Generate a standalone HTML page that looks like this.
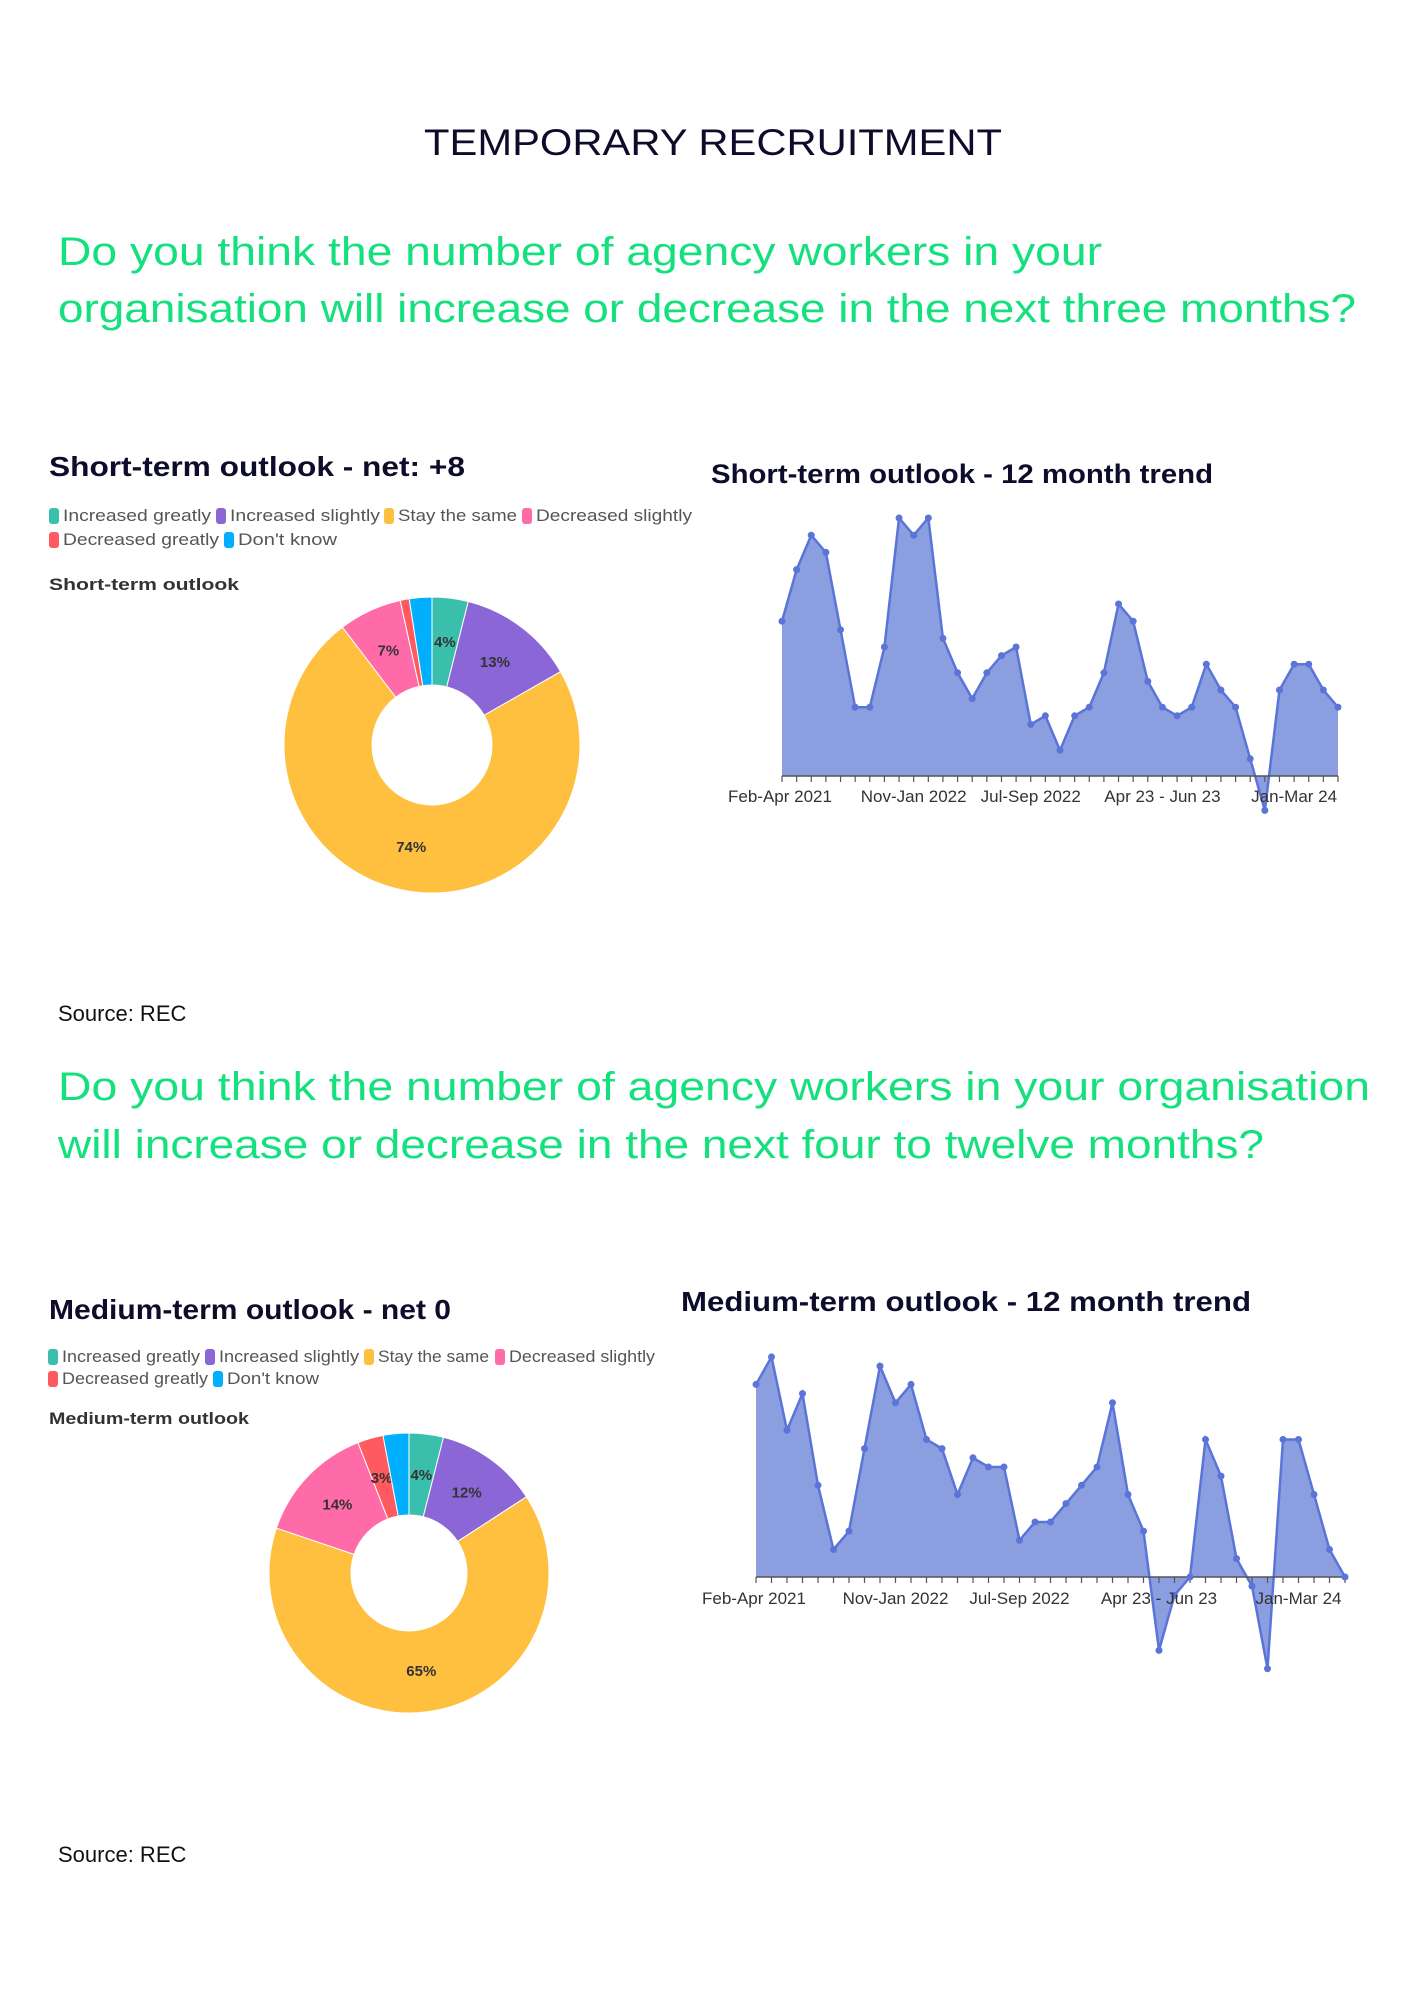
<!DOCTYPE html>
<html><head><meta charset="utf-8"><style>
html,body{margin:0;padding:0;background:#fff;}
svg{display:block;font-family:"Liberation Sans",sans-serif;}
</style></head><body>
<svg id="page" width="1414" height="2000" viewBox="0 0 1414 2000" xmlns="http://www.w3.org/2000/svg">
<rect width="1414" height="2000" fill="#fff"/>
<text x="713" y="155" text-anchor="middle" font-size="37" fill="#0d0d2b" textLength="578" lengthAdjust="spacingAndGlyphs">TEMPORARY RECRUITMENT</text>
<g fill="#14e07e" font-size="40">
<text x="58" y="265" textLength="1044" lengthAdjust="spacingAndGlyphs">Do you think the number of agency workers in your</text>
<text x="58" y="322" textLength="1298" lengthAdjust="spacingAndGlyphs">organisation will increase or decrease in the next three months?</text>
</g>
<g fill="#14e07e" font-size="40">
<text x="58" y="1100" textLength="1312" lengthAdjust="spacingAndGlyphs">Do you think the number of agency workers in your organisation</text>
<text x="58" y="1158" textLength="1206" lengthAdjust="spacingAndGlyphs">will increase or decrease in the next four to twelve months?</text>
</g>
<text x="58" y="1021" font-size="22" fill="#111">Source: REC</text>
<text x="58" y="1862" font-size="22" fill="#111">Source: REC</text>

<text x="49" y="476" font-size="28" font-weight="bold" fill="#0d0d2b" textLength="416" lengthAdjust="spacingAndGlyphs">Short-term outlook - net: +8</text>
<text x="49" y="590" font-size="17" font-weight="bold" fill="#333" textLength="190" lengthAdjust="spacingAndGlyphs">Short-term outlook</text>
<text x="49" y="1319" font-size="28" font-weight="bold" fill="#0d0d2b" textLength="402" lengthAdjust="spacingAndGlyphs">Medium-term outlook - net 0</text>
<text x="49" y="1424" font-size="17" font-weight="bold" fill="#333" textLength="200" lengthAdjust="spacingAndGlyphs">Medium-term outlook</text>
<text x="711" y="483" font-size="27" font-weight="bold" fill="#0d0d2b" textLength="502" lengthAdjust="spacingAndGlyphs">Short-term outlook - 12 month trend</text>
<text x="681" y="1311" font-size="28" font-weight="bold" fill="#0d0d2b" textLength="570" lengthAdjust="spacingAndGlyphs">Medium-term outlook - 12 month trend</text>
<g id="charts"></g>
</svg>
<script>
const NS="http://www.w3.org/2000/svg";
const legendLabels=["Increased greatly","Increased slightly","Stay the same","Decreased slightly","Decreased greatly","Don't know"];
const legendColors=["#3bbfad","#8b66d6","#ffbf3f","#ff6aa8","#ff5a5f","#00b0ff"];
const shortShares=[4,13,74,7,1,2.5];
const shortLabels=["4%","13%","74%","7%","",""];
const mediumShares=[4,12,65,14,3,3];
const mediumLabels=["4%","12%","65%","14%","3%",""];
const trendTicks=["Feb-Apr 2021","Nov-Jan 2022","Jul-Sep 2022","Apr 23 - Jun 23","Jan-Mar 24"];
const trendTickIdx=[0,9,17,26,35];
const shortTrend=[18,24,28,26,17,8,8,15,30,28,30,16,12,9,12,14,15,6,7,3,7,8,12,20,18,11,8,7,8,13,10,8,2,-4,10,13,13,10,8];
const mediumTrend=[21,24,16,20,10,3,5,14,23,19,21,15,14,9,13,12,12,4,6,6,8,10,12,19,9,5,-8,-2,0,15,11,2,-1,-10,15,15,9,3,0];

const root=document.getElementById('charts');
function mk(tag,attrs,parent){const e=document.createElementNS(NS,tag);for(const k in attrs)e.setAttribute(k,attrs[k]);(parent||root).appendChild(e);return e;}

function legend(x1s,ends,y1,y2,name){
  const g=mk('g',{});
  
  
  legendLabels.forEach((l,i)=>{
    const row=i<4?0:1, y=row?y2:y1, x=x1s[i];
    const it=mk('g',{},g);
    
    
    mk('rect',{x:x,y:y-13,width:10,height:16,rx:3,fill:legendColors[i]},it);
    const t=mk('text',{x:x+14,y:y,'font-size':17,fill:'#555',textLength:ends[i]-x-14,lengthAdjust:'spacingAndGlyphs'},it);
    t.textContent=l;
  });
}
legend([49,216,384,522,49,224],[211,380,517,692,219,337],521,545,'short-legend');
legend([48,205,364,495,48,213],[200,359,489,655,208,319],1362,1384,'medium-legend');

function donut(cx,cy,ro,ri,shares,labels,name){
  const g=mk('g',{});
  
  
  const tot=shares.reduce((a,b)=>a+b,0);
  let a0=0;
  shares.forEach((s,i)=>{
    const a1=a0+s/tot*2*Math.PI;
    const p=(r,a)=>[cx+r*Math.sin(a),cy-r*Math.cos(a)];
    const [x0,y0]=p(ro,a0),[x1,y1]=p(ro,a1),[x2,y2]=p(ri,a1),[x3,y3]=p(ri,a0);
    const lg=(a1-a0)>Math.PI?1:0;
    const path=mk('path',{d:`M${x0},${y0}A${ro},${ro} 0 ${lg} 1 ${x1},${y1}L${x2},${y2}A${ri},${ri} 0 ${lg} 0 ${x3},${y3}Z`,fill:legendColors[i],stroke:'#fff','stroke-width':1},g);
    
    
    if(labels[i]){
      const am=(a0+a1)/2,[lx,ly]=p((ro+ri)/2,am);
      const t=mk('text',{x:lx,y:ly+5,'text-anchor':'middle','font-size':15,'font-weight':'bold',fill:'#333'},g);
      
      
      t.textContent=labels[i];
    }
    a0=a1;
  });
}
donut(432,745,148,60,shortShares,shortLabels,'short-donut');
donut(409,1573,140,58,mediumShares,mediumLabels,'medium-donut');

function trend(vals,x0,x1,base,unit,labelY,name){
  const g=mk('g',{});
  
  
  const n=vals.length;
  const X=i=>x0+(x1-x0)*i/(n-1);
  const Y=v=>base-v*unit;
  let d=`M${X(0)},${base}`;
  vals.forEach((v,i)=>d+=`L${X(i)},${Y(v)}`);
  d+=`L${X(n-1)},${base}Z`;
  const area=mk('path',{d:d,fill:'#8a9ee0'},g);
  
  
  const line=mk('polyline',{points:vals.map((v,i)=>X(i)+','+Y(v)).join(' '),fill:'none',stroke:'#5a74d8','stroke-width':2.5},g);
  
  
  mk('line',{x1:x0,y1:base,x2:x1,y2:base,stroke:'#555','stroke-width':1.5},g);
  vals.forEach((v,i)=>{
    mk('line',{x1:X(i),y1:base,x2:X(i),y2:base+6,stroke:'#555','stroke-width':1.2},g);
    const c=mk('circle',{cx:X(i),cy:Y(v),r:3.5,fill:'#5a74d8'},g);
    
    
  });
  trendTicks.forEach((t,k)=>{
    const i=trendTickIdx[k];
    let x=X(i);
    if(k===0){x=X(0)-2;}
    const tx=mk('text',{x:x,y:labelY,'text-anchor':'middle','font-size':17,fill:'#333'},g);
    
    
    tx.textContent=t;
  });
}
trend(shortTrend,782,1338,776,8.6,802,'short-trend-chart');
trend(mediumTrend,756,1345,1577,9.17,1604,'medium-trend-chart');
</script>
</body></html>
